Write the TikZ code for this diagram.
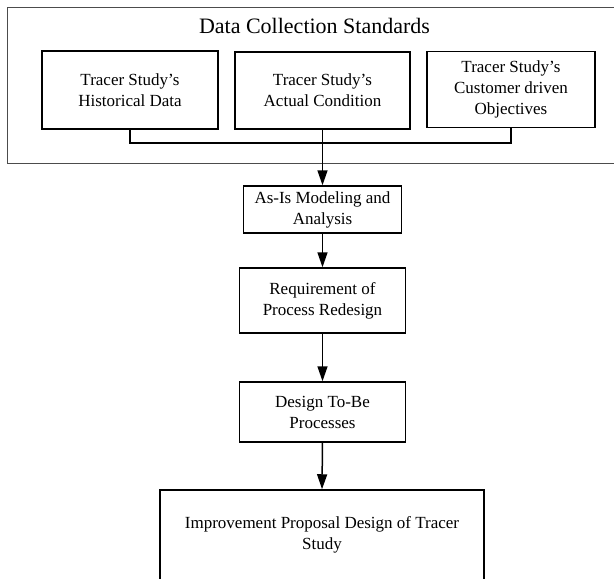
\documentclass[tikz,border=0pt]{standalone}
\usepackage{fontspec}
\setmainfont{Liberation Serif}
\usetikzlibrary{arrows.meta}
\begin{document}
\begin{tikzpicture}[x=1pt,y=-1pt,
  box/.style={draw,line width=1.5pt,inner sep=0pt,align=center,font=\fontsize{17}{21}\selectfont},
  conn/.style={line width=1.5pt},
  arr/.style={conn,-{Triangle[length=15pt,width=10pt]}},
  frame/.style={line width=1pt,draw=black!70}]
\useasboundingbox (0,0) rectangle (614,579);
\clip (0,0) rectangle (614,579);
\draw[frame] (7,7) rectangle (640,163);
\node[font=\fontsize{22}{26}\selectfont] (title) at (314.5,26) {Data Collection Standards};
\node[box,minimum width=176pt,minimum height=78pt] (b1) at (130,90) {Tracer Study's\\Historical Data};
\node[box,minimum width=175pt,minimum height=77pt] (b2) at (322.5,90.5) {Tracer Study's\\Actual Condition};
\node[box,minimum width=168pt,minimum height=76pt] (b3) at (511,89.5) {Tracer Study's\\Customer driven\\Objectives};
\coordinate (j) at (322.5,143);
\node[box,minimum width=158pt,minimum height=47pt] (asis) at (322.5,209.5) {As-Is Modeling and\\Analysis};
\node[box,minimum width=166pt,minimum height=65pt] (req) at (322.5,300.5) {Requirement of\\Process Redesign};
\node[box,minimum width=166pt,minimum height=60pt] (des) at (322.5,412) {Design To-Be\\Processes};
\node[box,minimum width=324pt,minimum height=130pt] (imp) at (322,555) {};
\node[font=\fontsize{17}{21}\selectfont,align=center,inner sep=0pt] (impt) at (322,535) {Improvement Proposal Design of Tracer\\Study};
\draw[conn] (b1.south) -- (b1.south |- j) -- (b3.south |- j) -- (b3.south);
\draw[arr] (b2.south) -- (asis.north);
\draw[arr] (asis.south) -- (req.north);
\draw[arr] (req.south) -- (des.north);
\draw[arr] (des.south) -- (imp.north);
\end{tikzpicture}
\end{document}
